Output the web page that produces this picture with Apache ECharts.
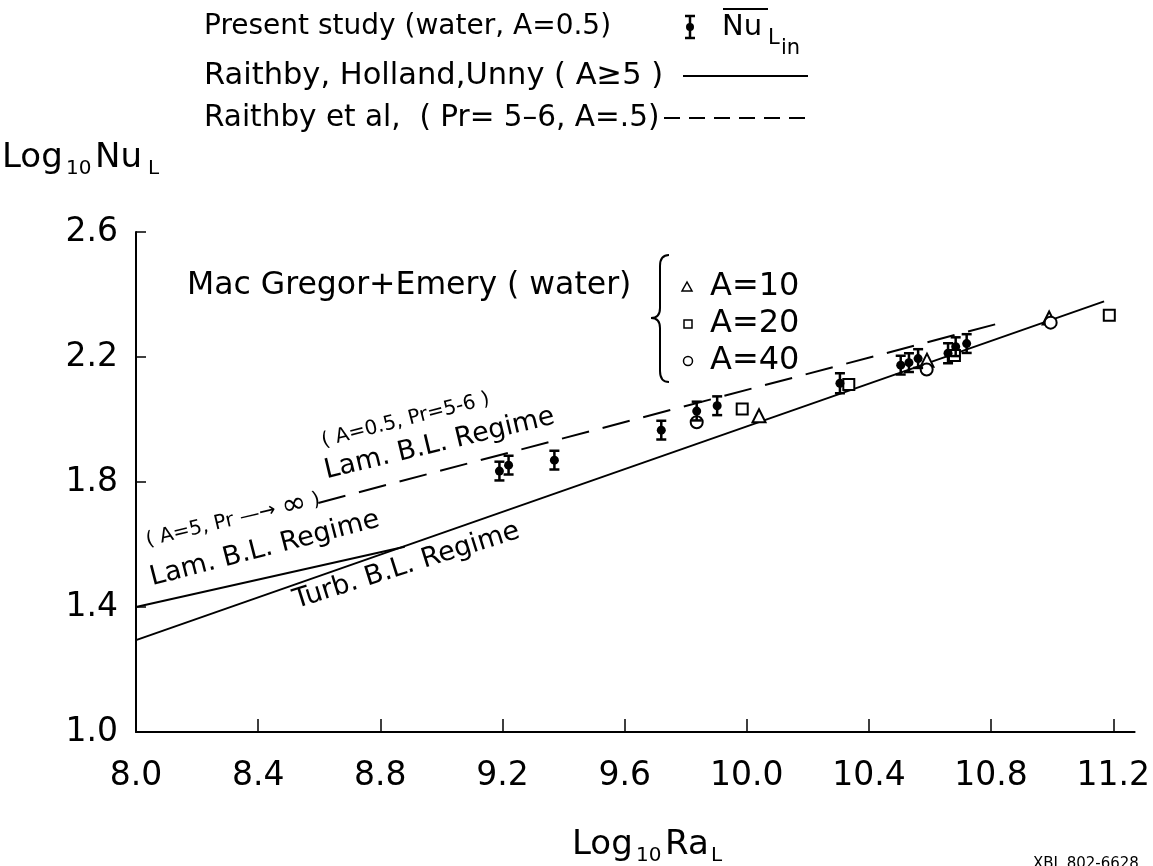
<!DOCTYPE html>
<html><head><meta charset="utf-8">
<script src="https://cdn.jsdelivr.net/npm/echarts@6/dist/echarts.min.js"></script>
<style>html,body{margin:0;padding:0;background:#fff}#c{width:1153px;height:866px}</style>
</head><body><div id="c"></div>
<script>
const FONT = '"DejaVu Sans", "Liberation Sans", sans-serif';

// tick labels
const xTicks = [8.0, 8.4, 8.8, 9.2, 9.6, 10.0, 10.4, 10.8, 11.2];
const yTicks = [1.0, 1.4, 1.8, 2.2, 2.6];

// Present study (water, A=0.5), mean Nu with error bars
const presentX   = [9.19, 9.22, 9.37, 9.72, 9.836, 9.903, 10.305, 10.504, 10.531, 10.561, 10.659, 10.684, 10.72];
const presentY   = [1.835, 1.854, 1.870, 1.966, 2.027, 2.044, 2.116, 2.174, 2.182, 2.195, 2.212, 2.233, 2.243];
const presentErr = [0.03, 0.03, 0.03, 0.03, 0.03, 0.03, 0.032, 0.03, 0.03, 0.03, 0.032, 0.03, 0.03];

// MacGregor + Emery (water)
const a10X = [10.04, 10.59, 10.99];
const a10Y = [2.012, 2.19, 2.325];
const a20X = [9.985, 10.334, 10.68, 11.187];
const a20Y = [2.034, 2.112, 2.205, 2.334];
const a40X = [9.836, 10.589, 10.995];
const a40Y = [1.991, 2.160, 2.31];

// Raithby, Holland, Unny correlations
const lamX  = [8.0, 8.88];
const lamY  = [1.40, 1.593];
const turbX = [8.0, 11.17];
const turbY = [1.294, 2.378];
// Raithby et al (Pr=5-6, A=.5)
const dashX = [8.597, 10.854];
const dashY = [1.733, 2.315];

const zip = (xs, ys) => xs.map((x, i) => [x, ys[i]]);

const chart = echarts.init(document.getElementById('c'));

const axisText = { color: '#000', fontSize: 33, fontFamily: FONT };
const openSym = { color: '#fff', borderColor: '#000', borderWidth: 2, opacity: 1 };

chart.setOption({
  animation: false,
  backgroundColor: '#fff',
  grid: { left: 136, top: 232, right: 10, bottom: 134, containLabel: false },
  xAxis: {
    type: 'value', min: 8.0, max: 11.27, interval: 0.4,
    axisLine: { show: true, lineStyle: { color: '#000', width: 2 } },
    axisTick: { show: true, inside: true, length: 13, lineStyle: { color: '#000', width: 1.5 }, customValues: xTicks },
    axisLabel: Object.assign({ margin: 28, customValues: xTicks, formatter: v => v.toFixed(1) }, axisText),
    splitLine: { show: false }
  },
  yAxis: {
    type: 'value', min: 1.0, max: 2.6, interval: 0.4,
    axisLine: { show: true, lineStyle: { color: '#000', width: 2 } },
    axisTick: { show: true, inside: true, length: 10, lineStyle: { color: '#000', width: 1.5 }, customValues: yTicks },
    axisLabel: Object.assign({ margin: 18, customValues: yTicks, formatter: v => v.toFixed(1) }, axisText),
    splitLine: { show: false }
  },
  series: [
    { type: 'line', data: zip(lamX, lamY), symbol: 'none', lineStyle: { color: '#000', width: 2 } },
    { type: 'line', data: zip(turbX, turbY), symbol: 'none', lineStyle: { color: '#000', width: 2 } },
    { type: 'line', data: zip(dashX, dashY), symbol: 'none', lineStyle: { color: '#000', width: 2, type: [28, 14] } },
    {
      type: 'custom', z: 4,
      data: presentX.map((x, i) => [x, presentY[i], presentErr[i]]),
      renderItem: (params, api) => {
        const x = api.value(0), y = api.value(1), e = api.value(2);
        const t = api.coord([x, y + e]), b = api.coord([x, y - e]);
        const w = 5, st = { stroke: '#000', lineWidth: 2.5 };
        return { type: 'group', children: [
          { type: 'line', shape: { x1: t[0], y1: t[1], x2: b[0], y2: b[1] }, style: st },
          { type: 'line', shape: { x1: t[0] - w, y1: t[1], x2: t[0] + w, y2: t[1] }, style: st },
          { type: 'line', shape: { x1: b[0] - w, y1: b[1], x2: b[0] + w, y2: b[1] }, style: st }
        ]};
      }
    },
    { type: 'scatter', z: 5, data: zip(presentX, presentY), symbol: 'circle', symbolSize: 9, itemStyle: { color: '#000', opacity: 1 } },
    { type: 'scatter', z: 3, data: zip(a10X, a10Y), symbol: 'triangle', symbolSize: 13, itemStyle: openSym },
    { type: 'scatter', z: 3, data: zip(a20X, a20Y), symbol: 'rect', symbolSize: 11, itemStyle: openSym },
    { type: 'scatter', z: 3, data: zip(a40X, a40Y), symbol: 'circle', symbolSize: 12, itemStyle: openSym }
  ]
});

// ---------- decorations: legend, axis names, annotations ----------
const T = (text, x, y, size, extra) => Object.assign({
  type: 'text', x: x, y: y, silent: true,
  style: { text: text, fontSize: size, fontFamily: FONT, fill: '#000', align: 'left', verticalAlign: 'middle' }
}, extra || {});
const L = (x1, y1, x2, y2, w, dash) => ({
  type: 'line', silent: true, shape: { x1, y1, x2, y2 },
  style: { stroke: '#000', lineWidth: w || 2, lineDash: dash || null }
});
const Q = (x1, y1, cx, cy, x2, y2) => ({
  type: 'bezierCurve', silent: true, shape: { x1, y1, x2, y2, cpx1: cx, cpy1: cy },
  style: { stroke: '#000', lineWidth: 2, fill: null }
});

const g = [];
// top legend
const R1 = 27, R2 = 76, R3 = 118;
g.push(T('Present study (water, A=0.5)', 204, R1, 28));
g.push(T('Raithby, Holland,Unny ( A\u22655 )', 204, R2, 30.5));
g.push(T('Raithby et al,  ( Pr= 5\u20136, A=.5)', 204, R3, 29.5));
// error-bar symbol
g.push(L(690, R1 - 11, 690, R1 + 11, 2.5), L(685, R1 - 11, 695, R1 - 11, 2.5), L(685, R1 + 11, 695, R1 + 11, 2.5));
g.push({ type: 'circle', silent: true, shape: { cx: 690, cy: R1, r: 4 }, style: { fill: '#000' } });
g.push(T('Nu', 722, R1, 29));
g.push(L(723, R1 - 18, 768, R1 - 18, 2));
g.push(T('L', 768, R1 + 12, 21));
g.push(T('in', 781, R1 + 22, 21));
g.push(L(683, R2, 808, R2, 2));
g.push(L(664, R3, 808, R3, 2, [16, 9]));

// y-axis name
g.push(T('Log', 2, 158, 34));
g.push(T('10', 66, 169, 20));
g.push(T('Nu', 95, 158, 34));
g.push(T('L', 148, 169, 20));

// x-axis name
g.push(T('Log', 572, 845, 34));
g.push(T('10', 636, 856, 20));
g.push(T('Ra', 665, 845, 34));
g.push(T('L', 711, 856, 20));

// small catalogue number
g.push(T('XBL 802-6628', 1033, 864, 15));

// MacGregor + Emery legend
g.push(T('Mac Gregor+Emery ( water)', 187, 286, 31.5));
g.push(Q(669, 255, 660, 255, 660, 266), L(660, 266, 660, 308, 2), Q(660, 308, 660, 318, 651, 318),
       Q(651, 318, 660, 318, 660, 328), L(660, 328, 660, 371, 2), Q(660, 371, 660, 382, 669, 382));
g.push({ type: 'polygon', silent: true, shape: { points: [[687, 282], [682, 291], [692, 291]] }, style: { fill: '#fff', stroke: '#000', lineWidth: 1.5 } });
g.push({ type: 'rect', silent: true, shape: { x: 684, y: 320, width: 8, height: 8 }, style: { fill: '#fff', stroke: '#000', lineWidth: 1.5 } });
g.push({ type: 'circle', silent: true, shape: { cx: 688, cy: 361, r: 4.5 }, style: { fill: '#fff', stroke: '#000', lineWidth: 1.5 } });
g.push(T('A=10', 710, 287, 32));
g.push(T('A=20', 710, 324, 32));
g.push(T('A=40', 710, 361, 32));

// rotated regime annotations (anchored to data coordinates)
const annot = [
  { t: '( A=0.5, Pr=5-6 )', x: 8.883, y: 1.998, s: 20, r: 14.3 },
  { t: 'Lam. B.L. Regime',  x: 8.994, y: 1.922, s: 27, r: 13.5 },
  { t: '{a|( A=5, Pr \u2014\u2192 }{b|\u221e}{a| )}', x: 8.318, y: 1.678, s: 20, r: 13.5 },
  { t: 'Lam. B.L. Regime',  x: 8.422, y: 1.586, s: 27, r: 14.5 },
  { t: 'Turb. B.L. Regime', x: 8.886, y: 1.531, s: 27, r: 17.5 }
];
annot.forEach(a => {
  const p = chart.convertToPixel({ gridIndex: 0 }, [a.x, a.y]);
  g.push({
    type: 'text', x: p[0], y: p[1], rotation: a.r * Math.PI / 180, silent: true,
    style: {
      text: a.t, fontSize: a.s, fontFamily: FONT, fill: '#000', align: 'center', verticalAlign: 'middle',
      rich: { a: { fontSize: 20, fontFamily: FONT }, b: { fontSize: 30, fontFamily: FONT } }
    }
  });
});

chart.setOption({ graphic: g });
</script>
</body></html>
